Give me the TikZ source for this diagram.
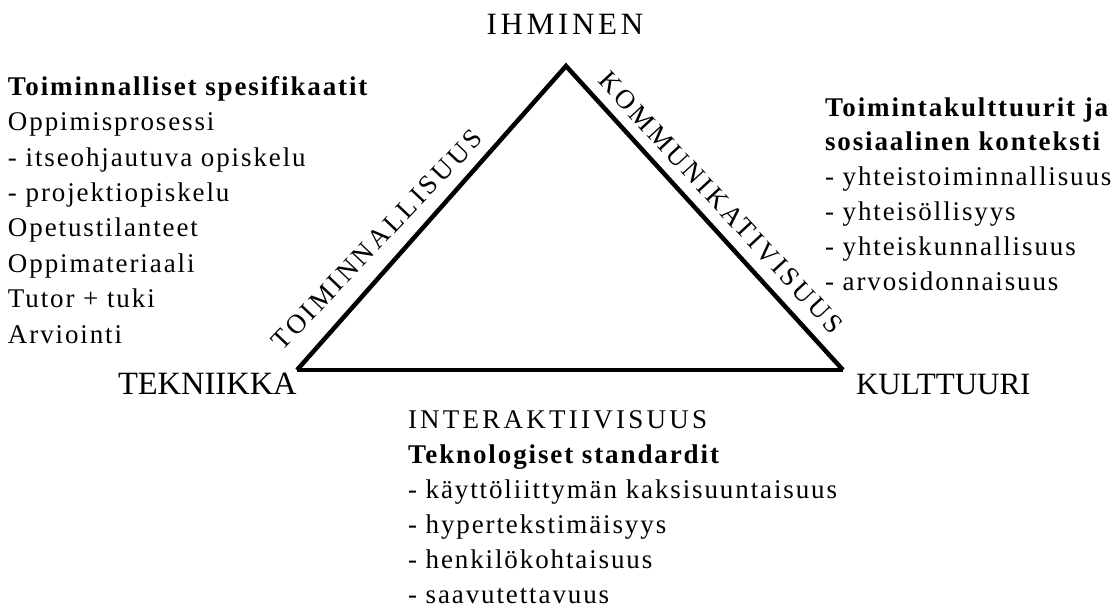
\documentclass[tikz,border=0pt]{standalone}
\usepackage{fontspec}
\setmainfont{Liberation Serif}
\newfontfamily\spaced{Liberation Serif}[LetterSpace=7]
\newfontfamily\capsspaced{Liberation Serif}[LetterSpace=12]
\newfontfamily\plainserif{Liberation Serif}
\begin{document}
\begin{tikzpicture}[x=1pt,y=-1pt,
  txt/.style={inner sep=0pt, outer sep=0pt, align=left, anchor=base west, font=\spaced\fontsize{27}{35.4}\selectfont},
  corner/.style={inner sep=0pt, outer sep=0pt, anchor=base west, font=\plainserif\fontsize{32.5}{36}\selectfont},
  edgelbl/.style={sloped, inner sep=0pt, font=\capsspaced\fontsize{27}{30}\selectfont},
  side/.style={line width=4.5pt, line join=miter}]
\useasboundingbox (0,0) rectangle (1116,608);
\coordinate (T) at (566,66);
\coordinate (L) at (297,370);
\coordinate (R) at (843,370);
\draw[side] (L) -- node[edgelbl, pos=0.37, above=15pt, rotate=-2] (toim) {TOIMINNALLISUUS} (T)
               -- node[edgelbl, pos=0.50, above=11pt, rotate=0.5] (komm) {KOMMUNIKATIVISUUS} (R);
\draw[side] (L) -- (R);
\node[inner sep=0pt, anchor=base, font=\capsspaced\fontsize{31}{36}\selectfont] (ihm) at (565,34) {IHMINEN};
\node[corner] (tek) at (118,394) {TEKNIIKKA};
\node[corner, font=\plainserif\fontsize{31}{36}\selectfont] (kul) at (856,394) {KULTTUURI};
% anchors are at the baseline of the last line
\node[txt] (left) at (8,343) {\textbf{Toiminnalliset spesifikaatit}\\Oppimisprosessi\\- itseohjautuva opiskelu\\- projektiopiskelu\\Opetustilanteet\\Oppimateriaali\\Tutor + tuki\\Arviointi};
\node[txt, font=\spaced\fontsize{27}{34.8}\selectfont] (right) at (825,290) {\textbf{Toimintakulttuurit ja}\\\textbf{sosiaalinen konteksti}\\- yhteistoiminnallisuus\\- yhteisöllisyys\\- yhteiskunnallisuus\\- arvosidonnaisuus};
\node[txt, font=\capsspaced\fontsize{27}{35}\selectfont] (inter) at (408,428) {INTERAKTIIVISUUS};
\node[txt, font=\spaced\fontsize{27}{35}\selectfont] (bottom) at (408,603) {\textbf{Teknologiset standardit}\\- käyttöliittymän kaksisuuntaisuus\\- hypertekstimäisyys\\- henkilökohtaisuus\\- saavutettavuus};
\end{tikzpicture}
\end{document}
